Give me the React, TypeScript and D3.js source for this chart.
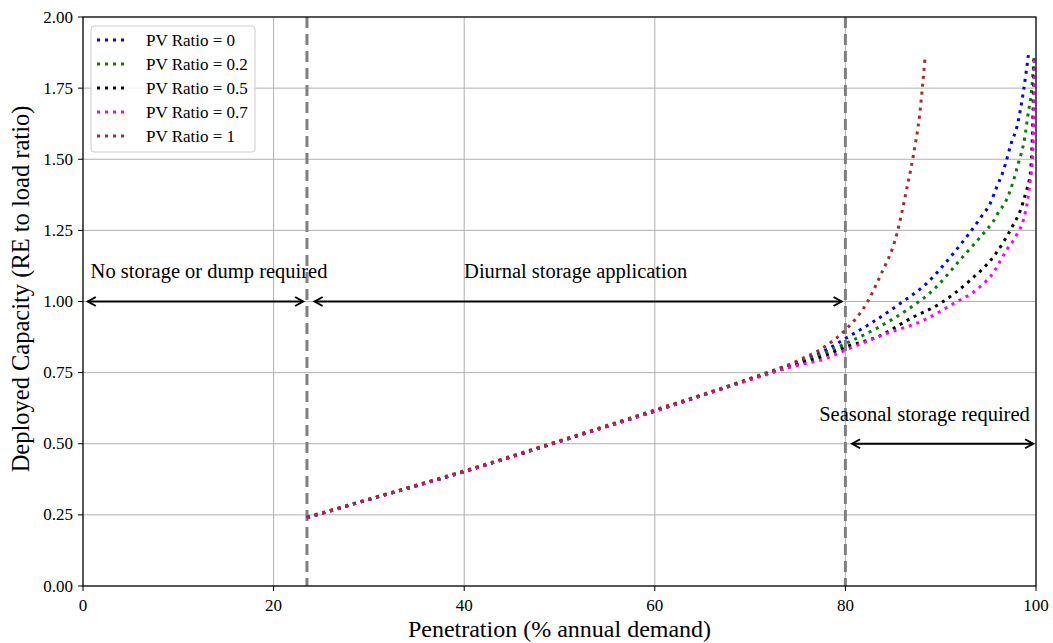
import React from "react";
import * as d3 from "d3";

const xTicks = [0, 20, 40, 60, 80, 100];
const yTicks = [0, 0.25, 0.5, 0.75, 1.0, 1.25, 1.5, 1.75, 2.0];

const seriesNames = ["PV Ratio = 0", "PV Ratio = 0.2", "PV Ratio = 0.5", "PV Ratio = 0.7", "PV Ratio = 1"];
const seriesColors = ["#0000ff", "#008000", "#000000", "#ff00ff", "#a52a2a"];

const penPV0 = [23.5, 30, 40, 50, 60, 70, 75, 78, 80, 82.6, 85.7, 88.5, 91.3, 94.3, 95.2, 95.9, 96.6, 97.4, 98.0, 98.7, 99.2];
const capPV0 = [0.24, 0.304, 0.402, 0.508, 0.615, 0.728, 0.787, 0.83, 0.87, 0.922, 0.992, 1.063, 1.168, 1.30, 1.345, 1.404, 1.462, 1.556, 1.615, 1.743, 1.866];

const penPV02 = [23.5, 30, 40, 50, 60, 70, 75, 78, 80, 82.9, 86.4, 89.2, 92.0, 94.5, 95.5, 96.0, 96.9, 97.6, 98.1, 98.8, 99.2, 99.5, 99.8];
const capPV02 = [0.24, 0.304, 0.402, 0.508, 0.615, 0.727, 0.784, 0.822, 0.852, 0.899, 0.969, 1.04, 1.145, 1.24, 1.281, 1.31, 1.357, 1.421, 1.48, 1.573, 1.667, 1.73, 1.86];

const penPV05 = [23.5, 30, 40, 50, 60, 70, 75, 78, 80, 83.3, 87.1, 89.9, 93.1, 95.6, 96.6, 97.6, 98.4, 98.95, 99.4, 99.65, 99.8];
const capPV05 = [0.24, 0.304, 0.402, 0.508, 0.615, 0.726, 0.78, 0.812, 0.84, 0.875, 0.945, 0.992, 1.075, 1.16, 1.21, 1.269, 1.324, 1.386, 1.45, 1.62, 1.86];

const penPV07 = [23.5, 30, 40, 50, 60, 70, 75, 78, 80, 84.3, 88.2, 91.3, 94.1, 95.6, 96.2, 96.8, 97.9, 98.7, 99.1, 99.4, 99.65, 99.75, 99.85];
const capPV07 = [0.24, 0.304, 0.402, 0.508, 0.614, 0.725, 0.776, 0.80, 0.829, 0.887, 0.934, 0.992, 1.051, 1.105, 1.14, 1.175, 1.23, 1.289, 1.351, 1.427, 1.509, 1.626, 1.86];

const penPV1 = [23.5, 30, 40, 50, 60, 70, 75, 78, 80, 82.2, 83.6, 85.4, 86.4, 87.1, 87.8, 88.35];
const capPV1 = [0.242, 0.306, 0.405, 0.511, 0.619, 0.73, 0.792, 0.845, 0.90, 0.992, 1.086, 1.238, 1.39, 1.508, 1.66, 1.853];

const penetrations = [penPV0, penPV02, penPV05, penPV07, penPV1];
const capacities = [capPV0, capPV02, capPV05, capPV07, capPV1];

const regionLines = [23.5, 80];
const regionLabels = ["No storage or dump required", "Diurnal storage application", "Seasonal storage required"];

const W = 1053;
const H = 643;
const left = 83;
const right = 1036;
const top = 17;
const bottom = 586;
const FONT = "'Liberation Serif', 'Times New Roman', serif";

function Arrow({ x1, x2, y }: { x1: number; x2: number; y: number }) {
  const h = 9;
  const w = 4.5;
  return (
    <g stroke="#000" strokeWidth={2} fill="none" strokeLinejoin="miter">
      <line x1={x1 + 1} x2={x2 - 1} y1={y} y2={y} />
      <polyline points={`${x1 + h},${y - w} ${x1 + 1},${y} ${x1 + h},${y + w}`} />
      <polyline points={`${x2 - h},${y - w} ${x2 - 1},${y} ${x2 - h},${y + w}`} />
    </g>
  );
}

export default function App() {
  const x = d3.scaleLinear().domain([0, 100]).range([left, right]);
  const y = d3.scaleLinear().domain([0, 2]).range([bottom, top]);
  const line = d3
    .line<[number, number]>()
    .x((d) => x(d[0]))
    .y((d) => y(d[1]))
    .curve(d3.curveMonotoneX);

  return (
    <svg
      width={W}
      height={H}
      style={{ position: "absolute", left: 0, top: 0, background: "#fff" }}
      fontFamily={FONT}
    >
      <rect x={0} y={0} width={W} height={H} fill="#fff" />
      {/* grid */}
      <g stroke="#b0b0b0" strokeWidth={1}>
        {xTicks.map((t) => (
          <line key={"gx" + t} x1={x(t)} x2={x(t)} y1={top} y2={bottom} />
        ))}
        {yTicks.map((t) => (
          <line key={"gy" + t} x1={left} x2={right} y1={y(t)} y2={y(t)} />
        ))}
      </g>
      {/* region separators */}
      {regionLines.map((r) => (
        <line
          key={"r" + r}
          x1={x(r)}
          x2={x(r)}
          y1={top}
          y2={bottom}
          stroke="#808080"
          strokeWidth={3}
          strokeDasharray="11 6"
        />
      ))}
      {/* series */}
      {penetrations.map((pen, i) => {
        const pts: [number, number][] = pen.map((p, j) => [p, capacities[i][j]]);
        return (
          <path
            key={"s" + i}
            d={line(pts) || ""}
            fill="none"
            stroke={seriesColors[i]}
            strokeWidth={3}
            strokeDasharray="3 5"
          />
        );
      })}
      {/* annotations */}
      <g fontSize={20.5} fill="#000">
        <text x={x(0.8)} y={278}>{regionLabels[0]}</text>
        <text x={x(51.7)} y={278} textAnchor="middle">{regionLabels[1]}</text>
        <text x={x(88.3)} y={421} textAnchor="middle">{regionLabels[2]}</text>
      </g>
      <Arrow x1={x(0.4)} x2={x(23.2)} y={y(1.0)} />
      <Arrow x1={x(24.2)} x2={x(79.7)} y={y(1.0)} />
      <Arrow x1={x(80.6)} x2={x(99.8)} y={y(0.5)} />
      {/* frame */}
      <rect x={left} y={top} width={right - left} height={bottom - top} fill="none" stroke="#000" strokeWidth={1.2} />
      {/* x ticks */}
      <g fontSize={17} textAnchor="middle">
        {xTicks.map((t) => (
          <g key={"xt" + t}>
            <line x1={x(t)} x2={x(t)} y1={bottom} y2={bottom + 5} stroke="#000" strokeWidth={1} />
            <text x={x(t)} y={bottom + 25}>{t}</text>
          </g>
        ))}
      </g>
      {/* y ticks */}
      <g fontSize={17} textAnchor="end">
        {yTicks.map((t) => (
          <g key={"yt" + t}>
            <line x1={left - 5} x2={left} y1={y(t)} y2={y(t)} stroke="#000" strokeWidth={1} />
            <text x={left - 10} y={y(t) + 5.5}>{t.toFixed(2)}</text>
          </g>
        ))}
      </g>
      {/* axis labels */}
      <text x={(left + right) / 2} y={637} fontSize={24} textAnchor="middle">
        Penetration (% annual demand)
      </text>
      <text
        transform={`translate(29, 289) rotate(-90)`}
        fontSize={24.5}
        textAnchor="middle"
      >
        Deployed Capacity (RE to load ratio)
      </text>
      {/* legend */}
      <g>
        <rect x={91} y={26} width={164} height={126} rx={3} fill="#fff" fillOpacity={0.85} stroke="#cccccc" strokeWidth={1} />
        {seriesNames.map((n, i) => {
          const ly = 40 + i * 24;
          return (
            <g key={"lg" + i}>
              <line x1={97} x2={129} y1={ly} y2={ly} stroke={seriesColors[i]} strokeWidth={3} strokeDasharray="3 5" />
              <text x={146} y={ly + 5.5} fontSize={17}>{n}</text>
            </g>
          );
        })}
      </g>
    </svg>
  );
}
